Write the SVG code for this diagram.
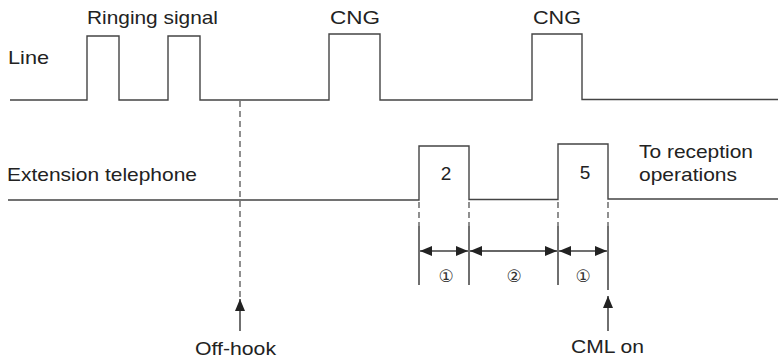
<svg xmlns="http://www.w3.org/2000/svg" width="778" height="363" viewBox="0 0 778 363">
<defs>
<style>
.t{font-family:"Liberation Sans",Arial,Helvetica,sans-serif;font-size:19px;fill:#222}
.c{font-family:"DejaVu Sans","Noto Sans CJK JP",sans-serif;font-size:17px;fill:#333}
.w{fill:none;stroke:#444;stroke-width:1.4}
.d{fill:none;stroke:#555;stroke-width:1.3;stroke-dasharray:6 4}
.a{fill:none;stroke:#333;stroke-width:1.4}
</style>
<marker id="ah" viewBox="0 0 12 10" refX="12" refY="5" markerWidth="12" markerHeight="10" markerUnits="userSpaceOnUse" orient="auto">
<path d="M0,0 L12,5 L0,10 Z" fill="#222"/>
</marker>
</defs>
<rect width="778" height="363" fill="#fff"/>
<g id="line-signal">
<text class="t" x="8" y="64" textLength="41" lengthAdjust="spacingAndGlyphs">Line</text>
<text class="t" x="87" y="24" textLength="131" lengthAdjust="spacingAndGlyphs">Ringing signal</text>
<text class="t" x="330" y="24" textLength="50" lengthAdjust="spacingAndGlyphs">CNG</text>
<text class="t" x="533" y="24" textLength="48" lengthAdjust="spacingAndGlyphs">CNG</text>
<path class="w" d="M10,100 H87 V36 H119 V100 H168 V36 H200 V100 H329 V34 H380 V100 H532 V34 H582 V99.5 H778"/>
</g>
<g id="extension-signal">
<text class="t" x="7" y="181" textLength="190" lengthAdjust="spacingAndGlyphs">Extension telephone</text>
<text class="t" x="446" y="180" text-anchor="middle">2</text>
<text class="t" x="585" y="179" text-anchor="middle">5</text>
<text class="t" x="639" y="158" textLength="114" lengthAdjust="spacingAndGlyphs">To reception</text>
<text class="t" x="639" y="181" textLength="98" lengthAdjust="spacingAndGlyphs">operations</text>
<path class="w" d="M8,200 H419 V146 H469 V199.5 H558 V144 H608 V199 H778"/>
</g>
<g id="off-hook">
<text class="t" x="195" y="355" textLength="81" lengthAdjust="spacingAndGlyphs">Off-hook</text>
</g>
<g id="cml-on">
<text class="t" x="571" y="353" textLength="73" lengthAdjust="spacingAndGlyphs">CML on</text>
</g>
<g id="intervals">
<text class="c" x="446" y="282" text-anchor="middle">①</text>
<text class="c" x="514" y="282" text-anchor="middle">②</text>
<text class="c" x="583" y="282" text-anchor="middle">①</text>
</g>
<g id="connectors">
<path class="d" d="M240,101 V298"/>
<path class="a" d="M240,331 V299" marker-end="url(#ah)"/>
<path class="a" d="M608,331 V296" marker-end="url(#ah)"/>
<path class="d" d="M419,202 V226 M469,202 V226 M558,202 V226 M608,202 V226"/>
<path class="a" d="M419,226 V285 M469,226 V285 M558,226 V285 M608,226 V290"/>
<path class="a" d="M444,251 H420" marker-end="url(#ah)"/>
<path class="a" d="M444,251 H468" marker-end="url(#ah)"/>
<path class="a" d="M513,251 H470" marker-end="url(#ah)"/>
<path class="a" d="M513,251 H557" marker-end="url(#ah)"/>
<path class="a" d="M583,251 H559" marker-end="url(#ah)"/>
<path class="a" d="M583,251 H607" marker-end="url(#ah)"/>
</g>
</svg>
